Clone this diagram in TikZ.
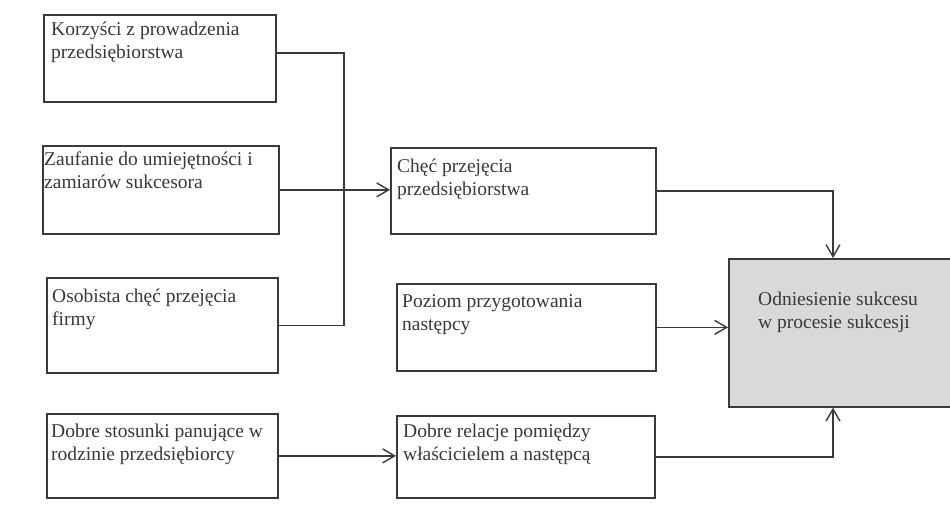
\documentclass[tikz,border=0pt]{standalone}
\usepackage{fontspec}
\setmainfont{Liberation Serif}
\usetikzlibrary{arrows.meta}

\definecolor{ink}{HTML}{3A3A3A}
\definecolor{txt}{HTML}{383838}
\definecolor{shade}{HTML}{D9D9D9}

\begin{document}
\begin{tikzpicture}[x=1pt,y=-1pt,
  box/.style={draw=ink, line width=1.7pt, rectangle, inner sep=0pt, anchor=north west},
  lbl/.style={anchor=north west, inner sep=0pt, align=left, text=txt,
              font=\fontsize{19.5}{23.5}\selectfont},
  wire/.style={draw=ink, line width=1.5pt},
  arr/.style={wire, -{Straight Barb[length=12pt,width=14pt,line width=1.4pt]}}
]
\useasboundingbox (0,0) rectangle (950,517);
\clip (0,0) rectangle (950,517);

% input boxes, left column
\node[box, minimum width=232pt, minimum height=87pt] (A) at (43,14) {};
\node[box, minimum width=236pt, minimum height=88pt] (B) at (42,145) {};
\node[box, minimum width=231pt, minimum height=95pt] (C) at (46,277) {};
\node[box, minimum width=231pt, minimum height=84pt] (E) at (46,413) {};

% middle column
\node[box, minimum width=265pt, minimum height=86pt] (D) at (390,147) {};
\node[box, minimum width=259pt, minimum height=87pt] (F) at (396,283) {};
\node[box, minimum width=258pt, minimum height=82pt] (G) at (396,415) {};

% outcome box (runs past the right edge)
\node[box, fill=shade, minimum width=240pt, minimum height=148pt] (S) at (728,258) {};

% box texts
\node[lbl] (At) at (51,21) {\rule{0pt}{14pt}Korzyści z prowadzenia\\przedsiębiorstwa};
\node[lbl] (Bt) at (44,151) {\rule{0pt}{14pt}Zaufanie do umiejętności i\\zamiarów sukcesora};
\node[lbl] (Ct) at (52,288) {\rule{0pt}{14pt}Osobista chęć przejęcia\\firmy};
\node[lbl] (Et) at (51,423) {\rule{0pt}{14pt}Dobre stosunki panujące w\\rodzinie przedsiębiorcy};
\node[lbl] (Dt) at (397,158) {\rule{0pt}{14pt}Chęć przejęcia\\przedsiębiorstwa};
\node[lbl] (Ft) at (402,293) {\rule{0pt}{14pt}Poziom przygotowania\\następcy};
\node[lbl] (Gt) at (403,423) {\rule{0pt}{14pt}Dobre relacje pomiędzy\\właścicielem a następcą};
\node[lbl] (St) at (758,291) {\rule{0pt}{14pt}Odniesienie sukcesu\\w procesie sukcesji};

% routing columns
\coordinate (bus) at (344,0);
\coordinate (drop) at (833,0);

% collector line joining the first and third inputs
\draw[wire] ([yshift=5.5pt]A.east) -- ([yshift=5.5pt]A.east -| bus)
            -- (C.east -| bus) -- (C.east);

% horizontal feeds
\draw[arr] (B.east) -- (B.east -| D.west);
\draw[arr] (E.east) -- (E.east -| G.west);
\draw[arr] (F.east) -- (F.east -| S.west);

% feeds into the outcome box from above and below
\draw[arr] (D.east) -| (drop |- S.north);
\draw[arr] (G.east) -| (drop |- S.south);
\end{tikzpicture}
\end{document}
